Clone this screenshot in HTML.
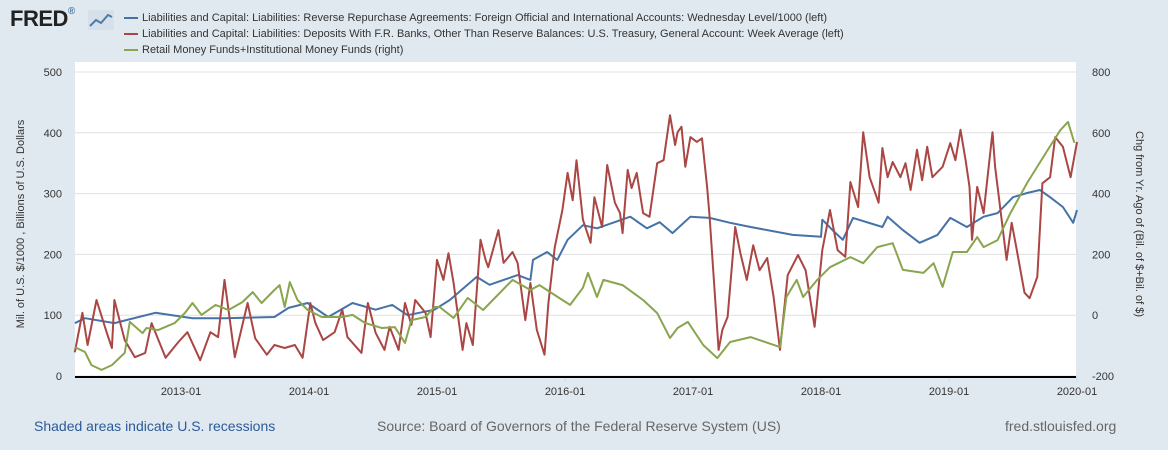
<!DOCTYPE html>
<html><head><meta charset="utf-8"><style>
body{margin:0;width:1168px;height:450px;background:#e1e9f0;font-family:"Liberation Sans",sans-serif;overflow:hidden;position:relative}
.t{position:absolute;white-space:nowrap}
</style></head><body>
<div class="t" style="left:10px;top:6px;font-size:22px;font-weight:bold;color:#222;letter-spacing:-0.5px">FRED<span style="font-size:10px;color:#4d7ca8;vertical-align:top">®</span></div>
<svg style="position:absolute;left:88px;top:10px" width="26" height="20"><rect width="26" height="20" fill="#d6e0ea"/><polyline points="2,16 8,10 13,13 20,5 24,7" fill="none" stroke="#4d7ca8" stroke-width="2"/></svg>
<div style="position:absolute;left:124px;top:12px;font-size:11px;color:#333">
<div style="height:16px"><span style="display:inline-block;width:14px;height:2px;background:#4572a7;vertical-align:middle;margin-right:4px"></span>Liabilities and Capital: Liabilities: Reverse Repurchase Agreements: Foreign Official and International Accounts: Wednesday Level/1000 (left)</div>
<div style="height:16px"><span style="display:inline-block;width:14px;height:2px;background:#aa4643;vertical-align:middle;margin-right:4px"></span>Liabilities and Capital: Liabilities: Deposits With F.R. Banks, Other Than Reserve Balances: U.S. Treasury, General Account: Week Average (left)</div>
<div style="height:16px"><span style="display:inline-block;width:14px;height:2px;background:#89a54e;vertical-align:middle;margin-right:4px"></span>Retail Money Funds+Institutional Money Funds (right)</div>
</div>
<svg id="chart" width="1168" height="450" style="position:absolute;left:0;top:0"></svg>
<div class="t" style="left:34px;top:418px;font-size:14px;color:#2a5a9a">Shaded areas indicate U.S. recessions</div>
<div class="t" style="left:377px;top:418px;font-size:14px;color:#666">Source: Board of Governors of the Federal Reserve System (US)</div>
<div class="t" style="left:1005px;top:418px;font-size:14px;color:#666">fred.stlouisfed.org</div>
<script>
const leftTicks=[0,100,200,300,400,500];
const rightTicks=[-200,0,200,400,600,800];
const xTicks=[2013,2014,2015,2016,2017,2018,2019,2020];
const xTickLabels=["2013-01","2014-01","2015-01","2016-01","2017-01","2018-01","2019-01","2020-01"];
const blueT=[2012.17,2012.25,2012.48,2012.80,2013.09,2013.34,2013.73,2013.84,2013.99,2014.15,2014.34,2014.52,2014.65,2014.77,2014.98,2015.10,2015.31,2015.41,2015.63,2015.73,2015.75,2015.86,2015.94,2016.02,2016.14,2016.25,2016.51,2016.64,2016.74,2016.84,2016.98,2017.13,2017.29,2017.45,2017.78,2018.0,2018.01,2018.09,2018.17,2018.25,2018.48,2018.52,2018.64,2018.77,2018.91,2019.01,2019.14,2019.27,2019.38,2019.50,2019.61,2019.71,2019.79,2019.89,2019.97,2020.0];
const blueV=[87,95,87,104,95,95,97,112,120,97,120,109,117,100,109,125,163,150,166,158,191,204,191,224,248,243,262,243,253,235,262,260,252,245,232,229,257,240,224,260,245,262,240,219,232,260,245,262,268,294,301,306,294,278,252,273];
const redT=[2012.17,2012.23,2012.27,2012.34,2012.42,2012.46,2012.48,2012.56,2012.64,2012.72,2012.77,2012.88,2012.98,2013.05,2013.15,2013.23,2013.29,2013.34,2013.42,2013.52,2013.58,2013.67,2013.73,2013.81,2013.89,2013.95,2014.01,2014.05,2014.11,2014.20,2014.26,2014.30,2014.41,2014.46,2014.52,2014.59,2014.63,2014.70,2014.75,2014.80,2014.83,2014.91,2014.95,2015.00,2015.05,2015.09,2015.13,2015.20,2015.23,2015.28,2015.34,2015.38,2015.40,2015.48,2015.52,2015.59,2015.63,2015.69,2015.73,2015.78,2015.84,2015.87,2015.92,2015.98,2016.02,2016.06,2016.09,2016.14,2016.20,2016.23,2016.29,2016.33,2016.39,2016.43,2016.45,2016.49,2016.52,2016.56,2016.61,2016.66,2016.72,2016.77,2016.82,2016.86,2016.88,2016.91,2016.94,2016.98,2017.03,2017.07,2017.11,2017.13,2017.20,2017.23,2017.27,2017.33,2017.37,2017.42,2017.47,2017.52,2017.58,2017.63,2017.68,2017.74,2017.82,2017.88,2017.95,2018.01,2018.07,2018.13,2018.19,2018.23,2018.29,2018.33,2018.38,2018.45,2018.48,2018.52,2018.56,2018.62,2018.66,2018.70,2018.75,2018.79,2018.83,2018.87,2018.95,2019.01,2019.05,2019.09,2019.13,2019.16,2019.18,2019.22,2019.27,2019.34,2019.36,2019.45,2019.49,2019.53,2019.59,2019.63,2019.69,2019.73,2019.79,2019.83,2019.89,2019.95,2020.0];
const redV=[39,104,51,125,71,46,125,59,31,38,87,30,56,72,26,72,64,158,31,120,62,35,51,46,51,30,120,87,59,72,109,64,38,120,71,43,81,43,120,84,125,104,64,191,158,202,153,43,87,51,224,191,179,240,186,204,186,92,153,76,35,120,212,273,334,289,355,257,219,294,245,347,285,268,235,339,309,334,268,262,350,355,429,380,401,410,344,393,385,391,311,262,43,76,97,245,202,158,215,174,194,130,43,166,199,174,81,207,273,207,196,319,278,401,327,285,375,327,352,327,350,306,372,322,377,327,344,383,355,405,355,311,224,311,268,401,344,191,252,207,137,128,163,317,327,393,377,327,385];
const greenT=[2012.17,2012.25,2012.30,2012.38,2012.46,2012.56,2012.60,2012.70,2012.73,2012.82,2012.95,2013.03,2013.09,2013.16,2013.27,2013.37,2013.48,2013.56,2013.63,2013.73,2013.77,2013.81,2013.85,2013.91,2013.99,2014.10,2014.26,2014.34,2014.44,2014.57,2014.67,2014.75,2014.80,2014.91,2014.98,2015.02,2015.13,2015.24,2015.36,2015.59,2015.73,2015.80,2015.98,2016.04,2016.14,2016.18,2016.25,2016.30,2016.45,2016.61,2016.72,2016.82,2016.88,2016.96,2017.08,2017.19,2017.29,2017.45,2017.68,2017.73,2017.81,2017.86,2017.97,2018.07,2018.23,2018.33,2018.44,2018.56,2018.64,2018.80,2018.88,2018.95,2019.03,2019.14,2019.22,2019.27,2019.38,2019.48,2019.61,2019.77,2019.87,2019.93,2019.98];
const greenV=[-105,-121,-164,-180,-164,-124,-22,-59,-42,-49,-26,7,40,1,34,17,43,76,40,83,99,27,109,50,17,-6,-6,1,-26,-42,-39,-91,-16,-6,27,27,-9,57,17,116,83,99,50,34,90,139,60,116,99,50,7,-75,-42,-22,-98,-141,-88,-72,-105,60,116,60,116,158,191,171,224,237,149,139,171,93,208,208,257,224,247,336,435,543,609,636,567];

const X0=75,X1=1076,Y0=376,Y1=72;
const xs=t=>181+(t-2013)*128;
const yl=v=>Y0-(v-0)/500*(Y0-Y1);
const yr=v=>Y0-(v+200)/1000*(Y0-Y1);
const svg=document.getElementById('chart');
const NS='http://www.w3.org/2000/svg';
function mk(tag,attrs){const e=document.createElementNS(NS,tag);for(const k in attrs)e.setAttribute(k,attrs[k]);svg.appendChild(e);return e;}
const bg=mk('rect',{x:X0,y:62,width:X1-X0,height:Y0-62,fill:'#fff'});


leftTicks.forEach((v,i)=>{
  const g=mk('line',{x1:X0,x2:X1,y1:yl(v),y2:yl(v),stroke:'#e0e0e0','stroke-width':1});
  
  
  const tl=mk('text',{x:62,y:yl(v)+4,'text-anchor':'end','font-size':11,fill:'#333'});tl.textContent=v;
  
  
  const tr=mk('text',{x:1092,y:yr(rightTicks[i])+4,'text-anchor':'start','font-size':11,fill:'#333'});tr.textContent=rightTicks[i];
  
  
});
xTicks.forEach((t,i)=>{
  const tk=mk('line',{x1:xs(t),x2:xs(t),y1:Y0,y2:Y0+6,stroke:'#ccd6eb'});
  
  
  const tx=mk('text',{x:xs(t),y:395,'text-anchor':'middle','font-size':11,fill:'#333'});tx.textContent=xTickLabels[i];
  
  
});
function series(T,V,f,color,name){
  const p=mk('polyline',{points:T.map((t,i)=>xs(t).toFixed(1)+','+f(V[i]).toFixed(1)).join(' '),fill:'none',stroke:color,'stroke-width':2,'stroke-linejoin':'round'});
  
  
}
series(blueT,blueV,yl,'#4572a7','series-reverse-repo');
series(redT,redV,yl,'#aa4643','series-treasury-general-account');
series(greenT,greenV,yr,'#89a54e','series-money-funds');
const ax=mk('line',{x1:X0,x2:X1,y1:Y0+1,y2:Y0+1,stroke:'#000','stroke-width':2});


const lt=mk('text',{x:0,y:0,'text-anchor':'middle','font-size':11,fill:'#333',transform:'translate(24,224) rotate(-90)'});
lt.textContent='Mil. of U.S. $/1000 , Billions of U.S. Dollars';


const rt=mk('text',{x:0,y:0,'text-anchor':'middle','font-size':11,fill:'#333',transform:'translate(1136,224) rotate(90)'});
rt.textContent='Chg from Yr. Ago of (Bil. of $+Bil. of $)';


</script>
</body></html>
